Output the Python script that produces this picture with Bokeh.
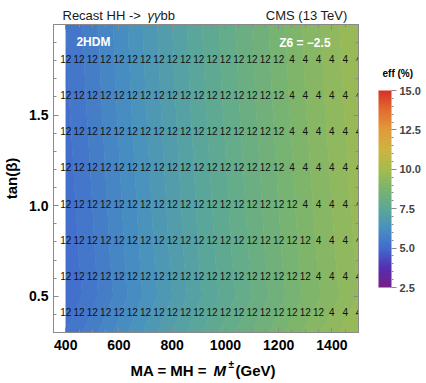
import numpy as np
from bokeh.plotting import figure
from bokeh.layouts import column, row
from bokeh.models import (Range1d, LinearAxis, FixedTicker, ColorBar, LinearColorMapper,
                          Label, PrintfTickFormatter)
from bokeh.core.properties import value
from bokeh.embed import file_html
from bokeh.resources import INLINE

# ---------------- data ----------------
mass_grid = [400, 500, 600, 700, 800, 900, 1000, 1100, 1200, 1300, 1400, 1500]
tanb_grid = [0.3, 0.5, 0.7, 1.0, 1.3, 1.6, 2.0]
eff_tanb_03 = [5.25, 5.65, 6.10, 6.55, 7.00, 7.45, 7.85, 8.25, 8.65, 9.05, 9.40, 9.75]
eff_tanb_05 = [5.00, 5.40, 5.85, 6.30, 6.75, 7.20, 7.60, 8.00, 8.40, 8.80, 9.15, 9.50]
eff_tanb_07 = [5.05, 5.45, 5.90, 6.35, 6.80, 7.25, 7.65, 8.05, 8.45, 8.85, 9.20, 9.55]
eff_tanb_10 = [5.10, 5.50, 5.95, 6.40, 6.85, 7.30, 7.70, 8.10, 8.50, 8.90, 9.25, 9.60]
eff_tanb_13 = [5.15, 5.55, 6.00, 6.45, 6.90, 7.35, 7.75, 8.15, 8.55, 8.95, 9.30, 9.65]
eff_tanb_16 = [5.20, 5.60, 6.05, 6.50, 6.95, 7.40, 7.80, 8.20, 8.60, 9.00, 9.35, 9.70]
eff_tanb_20 = [5.25, 5.65, 6.10, 6.55, 7.00, 7.45, 7.85, 8.25, 8.65, 9.05, 9.40, 9.75]

label_mass = [400, 450, 500, 550, 600, 650, 700, 750, 800, 850, 900, 950, 1000,
              1050, 1100, 1150, 1200, 1250, 1300, 1350, 1400, 1450, 1500]
label_tanb = [0.4, 0.6, 0.8, 1.0, 1.2, 1.4, 1.6, 1.8]
four_from = [1400, 1350, 1350, 1300, 1250, 1250, 1250, 1250]

x_ticks = [400, 600, 800, 1000, 1200, 1400]
y_ticks = [0.5, 1.0, 1.5]
cbar_ticks = [2.5, 5.0, 7.5, 10.0, 12.5, 15.0]
eff_low, eff_high = 2.5, 15.0

# ---------------- style ----------------
FONT = "Liberation Sans"
FRAME = "#8a8a8a"
rainbow_stops = [
    (0.0, (120, 30, 135)), (0.1, (84, 48, 178)), (0.2, (66, 108, 206)),
    (0.3, (72, 145, 192)), (0.4, (92, 168, 150)), (0.5, (122, 180, 110)),
    (0.6, (165, 187, 78)), (0.7, (205, 180, 64)), (0.8, (224, 155, 58)),
    (0.9, (226, 110, 48)), (1.0, (217, 48, 40)),
]

def cmap(t):
    t = min(max(t, 0.0), 1.0)
    for (t0, c0), (t1, c1) in zip(rainbow_stops[:-1], rainbow_stops[1:]):
        if t <= t1:
            f = (t - t0) / (t1 - t0)
            r, g, b = (int(round(a + (bb - a) * f)) for a, bb in zip(c0, c1))
            return "#%02x%02x%02x" % (r, g, b)
    return "#%02x%02x%02x" % rainbow_stops[-1][1]

W, H = 426, 383
HEAD_H, FOOT_H = 23, 25
MAIN_W = 360
SIDE_W = W - MAIN_W
MAIN_H = H - HEAD_H - FOOT_H
X0, X1, Y0, Y1 = 354, 1500, 0.3, 2.0


def text_strip(width, height):
    f = figure(width=width, height=height, x_range=Range1d(0, width), y_range=Range1d(height, 0),
               output_backend="svg", toolbar_location=None, min_border=0,
               x_axis_location=None, y_axis_location=None)
    f.outline_line_color = None
    f.grid.visible = False
    return f


def lab(fig, text, x, y, size, align="left", style="normal", color="#1a1a1a"):
    fig.add_layout(Label(x=x, y=y, text=text, text_font=FONT, text_font_size=size,
                         text_font_style=style, text_color=color, text_align=align,
                         text_baseline="middle"))

# ---------------- header ----------------
head = text_strip(W, HEAD_H)
lab(head, "Recast HH -> ", 62, 15, "13px")
lab(head, "γγ", 147, 15, "13px", style="italic")
lab(head, "bb", 160, 15, "13px")
lab(head, "CMS (13 TeV)", 347, 15, "13px", align="right")

# ---------------- main plot ----------------
p = figure(width=MAIN_W, height=MAIN_H, x_range=Range1d(X0, X1), y_range=Range1d(Y0, Y1),
           output_backend="svg", toolbar_location=None,
           min_border_left=51, min_border_right=2, min_border_top=1, min_border_bottom=26)
p.grid.visible = False
p.outline_line_color = FRAME
p.background_fill_color = "white"

Z = np.array([eff_tanb_03, eff_tanb_05, eff_tanb_07, eff_tanb_10,
              eff_tanb_13, eff_tanb_16, eff_tanb_20])
levels = list(np.arange(eff_low, eff_high + 1e-9, 0.25))
fills = [cmap(((a + b) / 2 - eff_low) / (eff_high - eff_low)) for a, b in zip(levels[:-1], levels[1:])]
for _ in range(2):
    cr = p.contour(x=np.array(mass_grid, float), y=np.array(tanb_grid, float), z=Z, levels=levels,
                   fill_color=fills, line_color=None)
    cr.fill_renderer.glyph.line_color = cr.fill_renderer.glyph.fill_color
    cr.fill_renderer.glyph.line_width = 1.2

lx, ly, lt = [], [], []
for tb, f4 in zip(label_tanb, four_from):
    for m in label_mass:
        lx.append(m)
        ly.append(tb)
        lt.append("4" if m >= f4 else "12")
p.text(x=lx, y=ly, text=lt, text_font=value(FONT), text_font_size="10px",
       text_align="center", text_baseline="middle", text_color="#111111", y_offset=-2)

lab(p, "2HDM", 440, 1.905, "12px", style="bold", color="white")
lab(p, "Z6 = −2.5", 1395, 1.90, "12px", align="right", style="bold", color="white")

minor_x = list(range(350, 1501, 50))
minor_y = [round(0.3 + 0.1 * k, 1) for k in range(18)]


def style_axis(ax, ticks, minor, labels=True):
    ax.ticker = FixedTicker(ticks=ticks, minor_ticks=minor)
    ax.axis_line_color = FRAME
    ax.major_tick_line_color = FRAME
    ax.minor_tick_line_color = FRAME
    ax.major_tick_in = 5
    ax.major_tick_out = 0
    ax.minor_tick_in = 3
    ax.minor_tick_out = 0
    ax.major_label_text_font = FONT
    ax.major_label_text_font_style = "bold"
    ax.major_label_text_font_size = "14px"
    ax.major_label_text_color = "black"
    if not labels:
        ax.major_label_text_font_size = "1px"
        ax.major_label_text_color = None
        ax.major_label_standoff = 0

style_axis(p.xaxis[0], x_ticks, minor_x)
p.xaxis[0].major_label_standoff = 7
style_axis(p.yaxis[0], y_ticks, minor_y)
p.yaxis[0].formatter = PrintfTickFormatter(format="%.1f")
p.yaxis[0].major_label_standoff = 5
p.yaxis[0].axis_label = "tan(β)"
p.yaxis[0].axis_label_text_font = FONT
p.yaxis[0].axis_label_text_font_style = "bold"
p.yaxis[0].axis_label_text_font_size = "15px"
p.yaxis[0].axis_label_text_color = "black"
p.yaxis[0].axis_label_standoff = 6

top = LinearAxis()
style_axis(top, x_ticks, minor_x, labels=False)
p.add_layout(top, "above")
right = LinearAxis()
style_axis(right, y_ticks, minor_y, labels=False)
p.add_layout(right, "right")

# ---------------- colour bar strip ----------------
side = text_strip(SIDE_W, MAIN_H)
mapper = LinearColorMapper(palette=[cmap(i / 255) for i in range(256)], low=eff_low, high=eff_high)
cb = ColorBar(color_mapper=mapper, width=13, height=197, location=(8, 35), padding=10,
              ticker=FixedTicker(ticks=cbar_ticks, minor_ticks=[2.5 + 0.5 * k for k in range(26)]),
              formatter=PrintfTickFormatter(format="%.1f"),
              major_label_text_font=FONT, major_label_text_font_style="bold",
              major_label_text_font_size="11px", label_standoff=3,
              major_tick_line_color=FRAME, major_tick_in=0, major_tick_out=5,
              minor_tick_line_color=FRAME, minor_tick_in=0, minor_tick_out=2,
              bar_line_color=None, background_fill_alpha=0, border_line_color=None)
side.add_layout(cb)
lab(side, "eff (%)", 22, 53, "10px", style="bold", color="black")

# ---------------- footer ----------------
foot = text_strip(W, FOOT_H)
lab(foot, "MA = MH = ", 130, 12, "15px", style="bold", color="black")
lab(foot, "M", 213, 12, "15px", style="bold italic", color="black")
lab(foot, "±", 228, 6, "10px", style="bold", color="black")
lab(foot, "(GeV)", 235, 12, "15px", style="bold", color="black")

layout = column(head, row(p, side), foot)
open("out.html", "w").write(file_html(layout, INLINE))
